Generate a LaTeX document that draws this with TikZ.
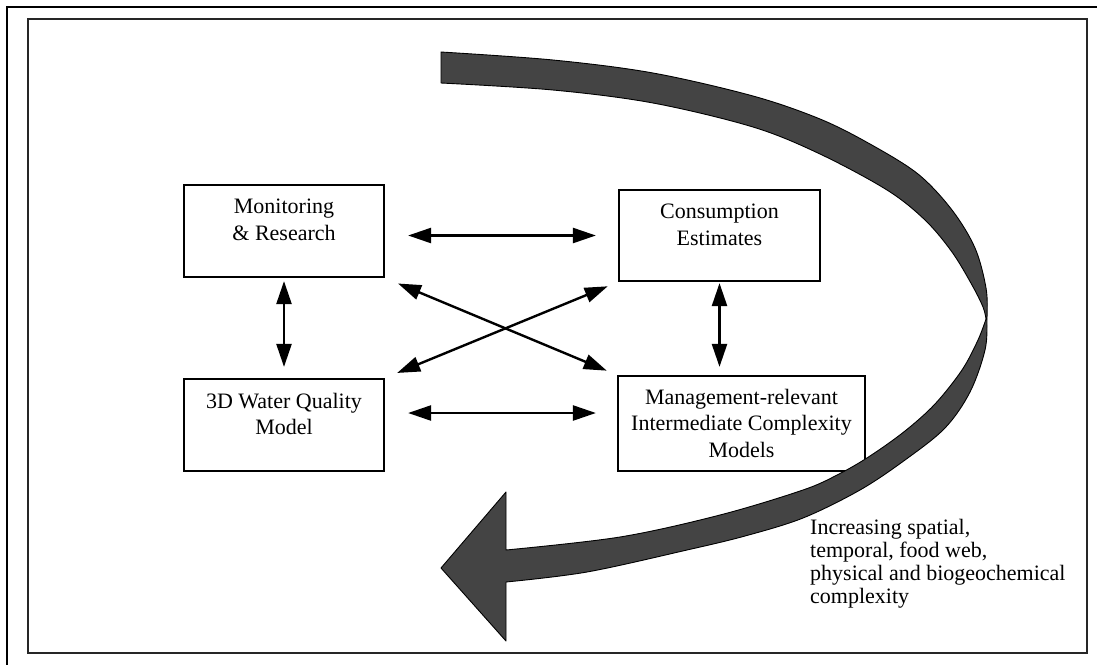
\documentclass[tikz,border=0pt]{standalone}
\usepackage{fontspec}
\setmainfont{Liberation Serif}
\usetikzlibrary{arrows.meta}
\definecolor{arrowgray}{HTML}{444444}
\begin{document}
\begin{tikzpicture}[x=1pt,y=-1pt,
  box/.style={draw, line width=2.2pt, fill=white, inner sep=0pt},
  boxtext/.style={font=\fontsize{22}{26.5}\selectfont, align=center, inner sep=0pt, anchor=north},
  dbl/.style={line width=2.4pt, {Triangle[length=23pt,width=15pt]}-{Triangle[length=23pt,width=15pt]}},
  frame/.style={line width=2pt},
  bigarrow/.style={fill=arrowgray, draw=black, line width=0.9pt, line join=round}]
\useasboundingbox (0,0) rectangle (1097,665);
\fill[white] (0,0) rectangle (1097,665);
\draw[frame] (1097,7) -- (7,7) -- (7,665);
\draw[frame, draw=black!85] (28,19) rectangle (1087,653);

\node[box, minimum width=200pt, minimum height=92pt] (mon) at (284,231) {};
\node[boxtext] (montxt) at ([yshift=-15pt]mon.north) {Monitoring\\ \& Research};
\node[box, minimum width=201pt, minimum height=91pt] (cons) at (719.5,235.5) {};
\node[boxtext] (constxt) at ([yshift=-15pt]cons.north) {Consumption\\ Estimates};
\node[box, minimum width=200pt, minimum height=92pt] (td) at (284,425) {};
\node[boxtext] (tdtxt) at ([yshift=-15pt]td.north) {3D Water Quality\\ Model};
\node[box, minimum width=247pt, minimum height=95pt] (mg) at (741.5,423.5) {};
\node[boxtext] (mgtxt) at ([yshift=-14pt]mg.north) {Management-relevant\\ Intermediate Complexity\\ Models};

\draw[dbl, shorten <=23pt, shorten >=22pt] (mon.east |- cons.west) -- (cons.west);
\draw[dbl, shorten <=23pt, shorten >=21pt] ([yshift=12pt]td.east) -- ([yshift=10.5pt]mg.west);
\draw[dbl, shorten <=3pt, shorten >=11pt] (mon.south) -- (td.north);
\draw[dbl, shorten <=1pt, shorten >=8pt] (cons.south) -- (cons.south |- mg.north);
\draw[dbl, shorten <=14pt, shorten >=11pt] (mon.south east) -- (mg.north west);
\draw[dbl, shorten <=13pt, shorten >=11pt] (td.north east) -- (cons.south west);

\filldraw[bigarrow]
  plot[smooth, tension=0.55] coordinates {(441,52) (553,60) (653,73) (753,96) (820,119) (870,144) (918,174) (952,210) (975,248) (986,288) (987,318) (985,350) (970,392) (945,428) (905,460) (860,490) (803,518) (745,536) (687,550) (587,572) (506,582)}
  -- (506,641) -- (441,568) -- (506,492) -- (506,550)
  -- plot[smooth, tension=0.55] coordinates {(506,550) (620,537) (720,515) (803,490) (839,474) (870,456) (905,431) (935,404) (962,370) (978,340) (986,319)}
  -- plot[smooth, tension=0.55] coordinates {(986,319) (983,307) (972,285) (952,252) (925,220) (887,190) (820,154) (753,127) (653,103) (553,90) (441,83)}
  -- cycle;

\node[font=\fontsize{22}{23}\selectfont, align=left, anchor=north west, inner sep=0pt] (lbl) at (810,519) {Increasing spatial,\\ temporal, food web,\\ physical and biogeochemical\\ complexity};
\end{tikzpicture}
\end{document}
